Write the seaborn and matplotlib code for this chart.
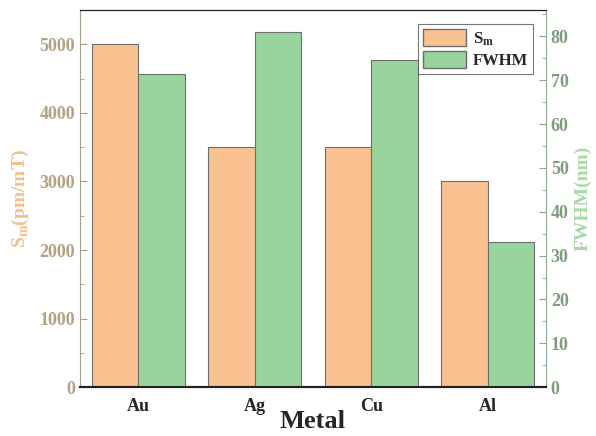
import pandas as pd
import matplotlib
matplotlib.use("Agg")
import matplotlib.pyplot as plt
import seaborn as sns
from matplotlib.ticker import MultipleLocator
from matplotlib.patches import Patch

# data
metals = ['Au', 'Ag', 'Cu', 'Al']
sm_values = [5000, 3500, 3500, 3000]
fwhm_values = [71.5, 81.0, 74.5, 33.0]

SM_LABEL = r'$\mathbf{S_m}$'
FWHM_LABEL = 'FWHM'
COLOR_SM = '#fac291'
COLOR_FWHM = '#98d49b'
EDGE = '#6e6e6e'

sns.set_style("ticks")
plt.rcParams['font.family'] = ['Liberation Serif', 'DejaVu Serif']
plt.rcParams['font.weight'] = 'bold'
plt.rcParams['mathtext.fontset'] = 'custom'
plt.rcParams['mathtext.rm'] = 'Liberation Serif'
plt.rcParams['mathtext.bf'] = 'Liberation Serif:bold'

n = len(metals)
df_sm = pd.DataFrame({'Metal': metals * 2,
                      'Series': [SM_LABEL] * n + [FWHM_LABEL] * n,
                      'Value': sm_values + [float('nan')] * n})
df_fw = pd.DataFrame({'Metal': metals * 2,
                      'Series': [SM_LABEL] * n + [FWHM_LABEL] * n,
                      'Value': [float('nan')] * n + fwhm_values})
palette = {SM_LABEL: COLOR_SM, FWHM_LABEL: COLOR_FWHM}
hue_order = [SM_LABEL, FWHM_LABEL]

fig = plt.figure(figsize=(5.96, 4.36), dpi=100)
ax1 = fig.add_axes([0.134, 0.112, 0.782, 0.865])
ax2 = ax1.twinx()

sns.barplot(data=df_sm, x='Metal', y='Value', hue='Series', hue_order=hue_order,
            palette=palette, order=metals, width=0.8, errorbar=None, saturation=1,
            edgecolor=EDGE, linewidth=0.8, ax=ax1, legend=False)
sns.barplot(data=df_fw, x='Metal', y='Value', hue='Series', hue_order=hue_order,
            palette=palette, order=metals, width=0.8, errorbar=None, saturation=1,
            edgecolor=EDGE, linewidth=0.8, ax=ax2, legend=False)

ax1.set_xlim(-0.5, 3.5)
ax1.set_ylim(0, 5500)
ax2.set_ylim(0, 86)

ax1.yaxis.set_major_locator(MultipleLocator(1000))
ax1.yaxis.set_minor_locator(MultipleLocator(500))
ax2.yaxis.set_major_locator(MultipleLocator(10))
ax2.yaxis.set_minor_locator(MultipleLocator(5))

left_tick_color = '#b3a184'
right_tick_color = '#7e9c7e'

ax1.tick_params(axis='y', which='both', direction='in', colors='#a89c8a',
                labelcolor=left_tick_color, labelsize=13)
ax1.tick_params(axis='y', which='major', length=5)
ax1.tick_params(axis='y', which='minor', length=3)
ax2.tick_params(axis='y', which='both', direction='in', colors='#8fa88f',
                labelcolor=right_tick_color, labelsize=13)
ax2.tick_params(axis='y', which='major', length=5)
ax2.tick_params(axis='y', which='minor', length=3)
ax1.tick_params(axis='x', direction='in', length=4, labelsize=13, width=1.2, pad=8)

for lbl in ax1.get_yticklabels() + ax2.get_yticklabels() + ax1.get_xticklabels():
    lbl.set_fontweight('bold')

ax1.spines['left'].set_color('#a89c8a')
ax2.spines['left'].set_visible(False)
ax2.spines['right'].set_color('#8fa88f')
for ax in (ax1, ax2):
    ax.spines['top'].set_color('#222222')
    ax.spines['bottom'].set_color('#222222')
    ax.spines['bottom'].set_linewidth(1.5)
ax1.spines['right'].set_visible(False)

ax1.set_xlabel('Metal', fontsize=19, fontweight='bold', labelpad=-4)
ax1.set_ylabel(r'S$_\mathregular{m}$(pm/mT)', fontsize=14, fontweight='bold',
               color='#f4c08c', labelpad=6)
ax2.set_ylabel('FWHM(nm)', fontsize=14, fontweight='bold', color='#a5dba5', labelpad=4)

handles = [Patch(facecolor=COLOR_SM, edgecolor=EDGE, label=SM_LABEL),
           Patch(facecolor=COLOR_FWHM, edgecolor=EDGE, label=FWHM_LABEL)]
leg = ax2.legend(handles=handles, loc='upper right', frameon=True,
                 fancybox=False, edgecolor='#555555', handlelength=2.6, handleheight=1.2,
                 borderpad=0.3, labelspacing=0.2, handletextpad=0.4,
                 prop={'family': 'Liberation Serif', 'weight': 'bold', 'size': 12},
                 bbox_to_anchor=(0.99, 0.985))
leg.get_frame().set_linewidth(0.8)

fig.savefig('out.png', dpi=100)
